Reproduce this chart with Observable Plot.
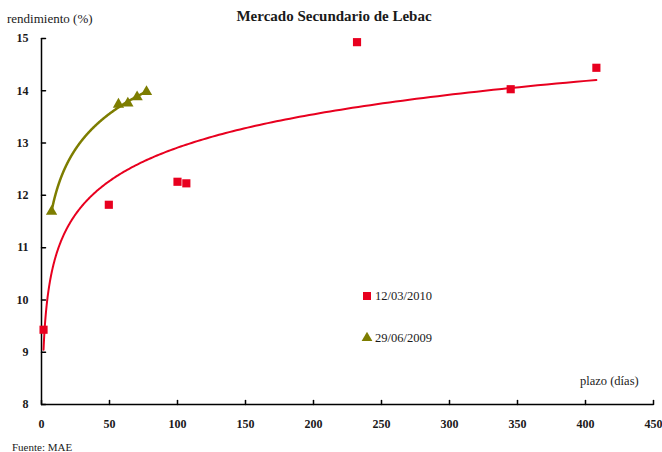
<!DOCTYPE html>
<html><head><meta charset="utf-8">
<script src="https://cdn.jsdelivr.net/npm/d3@7"></script>
<script src="https://cdn.jsdelivr.net/npm/@observablehq/plot@0.6"></script>
<style>
body{margin:0;background:#fff;font-family:"Liberation Serif","Times New Roman",Tinos,"DejaVu Serif",serif;}
#wrap{position:relative;width:662px;height:452px;}
.t{position:absolute;white-space:nowrap;color:#1a1a1a;line-height:1;}
</style></head><body><div id="wrap"></div>
<script>
// Data
const plazo2010 = [1.5, 49.5, 100, 106.5, 232, 345, 408];
const rend2010  = [9.43, 11.82, 12.26, 12.23, 14.93, 14.03, 14.44];
const plazo2009 = [7.4, 56.6, 63.5, 70.3, 77.2];
const rend2009  = [11.69, 13.74, 13.76, 13.88, 13.98];
const seriesNames = ["12/03/2010", "29/06/2009"];
const xTicks = [0, 50, 100, 150, 200, 250, 300, 350, 400, 450];
const yTicks = [8, 9, 10, 11, 12, 13, 14, 15];

const RED = "#e8001f", OLIVE = "#7d7d00";
const FONT = "'Liberation Serif', 'Times New Roman', Tinos, 'DejaVu Serif', serif";

// Logarithmic least-squares trendline (as in the spreadsheet), computed from the data
function logFit(xs, ys) {
  const lx = xs.map(Math.log);
  const mx = d3.mean(lx), my = d3.mean(ys);
  const b = d3.sum(lx, (l, i) => (l - mx) * (ys[i] - my)) / d3.sum(lx, l => (l - mx) ** 2);
  const a = my - b * mx;
  const [x0, x1] = d3.extent(xs);
  return d3.range(0, 301).map(i => {
    const x = x0 * Math.pow(x1 / x0, i / 300);
    return {x, y: a + b * Math.log(x)};
  });
}
const d2010 = plazo2010.map((x, i) => ({x, y: rend2010[i]}));
const d2009 = plazo2009.map((x, i) => ({x, y: rend2009[i]}));
const fit2010 = logFit(plazo2010, rend2010);
const fit2009 = logFit(plazo2009, rend2009);

const tickShape = {draw(ctx, l) { ctx.moveTo(0, 0); ctx.lineTo(0, -l); }};

const chart = Plot.plot({
  width: 662, height: 452,
  marginLeft: 41, marginRight: 9, marginTop: 38, marginBottom: 48,
  x: {domain: [0, 450]},
  y: {domain: [8, 15]},
  style: {fontFamily: FONT, fontSize: "12px", color: "#1a1a1a", background: "transparent"},
  marks: [
    Plot.axisX(xTicks, {tickSize: 0, tickPadding: 15, fontWeight: "bold", label: null, tickFormat: d3.format("d")}),
    Plot.axisY(yTicks, {tickSize: 0, tickPadding: 13, fontWeight: "bold", label: null, tickFormat: d3.format("d")}),
    Plot.vector(yTicks, {x: 0, y: d => d, length: 4, rotate: 90, anchor: "start", shape: tickShape, stroke: "#000"}),
    Plot.vector(xTicks, {x: d => d, y: 8, length: 4, rotate: 0, anchor: "start", shape: tickShape, stroke: "#000"}),
    Plot.ruleX([0], {stroke: "#000", strokeWidth: 1.5}),
    Plot.ruleY([8], {stroke: "#000", strokeWidth: 1.5}),
    Plot.line(fit2010, {x: "x", y: "y", stroke: RED, strokeWidth: 2}),
    Plot.line(fit2009, {x: "x", y: "y", stroke: OLIVE, strokeWidth: 2.5}),
    Plot.dot(d2010, {x: "x", y: "y", symbol: "square", r: 4.6, fill: RED}),
    Plot.dot(d2009, {x: "x", y: "y", symbol: "triangle", r: 4.2, fill: OLIVE})
  ]
});
const wrap = document.getElementById("wrap");
wrap.appendChild(chart);
chart.style.position = "absolute"; chart.style.left = "0"; chart.style.top = "0";

function addText(txt, left, top, size, weight, extra) {
  const d = document.createElement("div");
  d.className = "t"; d.textContent = txt;
  d.style.left = left + "px"; d.style.top = top + "px";
  d.style.fontSize = size + "px"; d.style.fontWeight = weight || "normal";
  d.style.fontFamily = FONT;
  if (extra) Object.assign(d.style, extra);
  wrap.appendChild(d); return d;
}
addText("Mercado Secundario de Lebac", 0, 9, 15, "bold", {width: "662px", textAlign: "center", left: "3px"});
addText("rendimiento (%)", 7, 11.5, 13);
addText("plazo (días)", 580, 375, 12.5);
addText("Fuente: MAE", 12, 442, 11);

// Legend
function legendItem(symbol, color, label, cy) {
  const s = document.createElementNS("http://www.w3.org/2000/svg", "svg");
  s.setAttribute("width", 12); s.setAttribute("height", 12);
  s.style.position = "absolute"; s.style.left = "361px"; s.style.top = (cy - 6) + "px";
  const p = document.createElementNS("http://www.w3.org/2000/svg", "path");
  p.setAttribute("d", d3.symbol(symbol, symbol === d3.symbolSquare ? 64 : 50)());
  p.setAttribute("transform", "translate(6,6)");
  p.setAttribute("fill", color);
  s.appendChild(p); wrap.appendChild(s);
  addText(label, 375, cy - 6, 12.5);
}
legendItem(d3.symbolSquare, RED, seriesNames[0], 296);
legendItem(d3.symbolTriangle, OLIVE, seriesNames[1], 338);
</script></body></html>
